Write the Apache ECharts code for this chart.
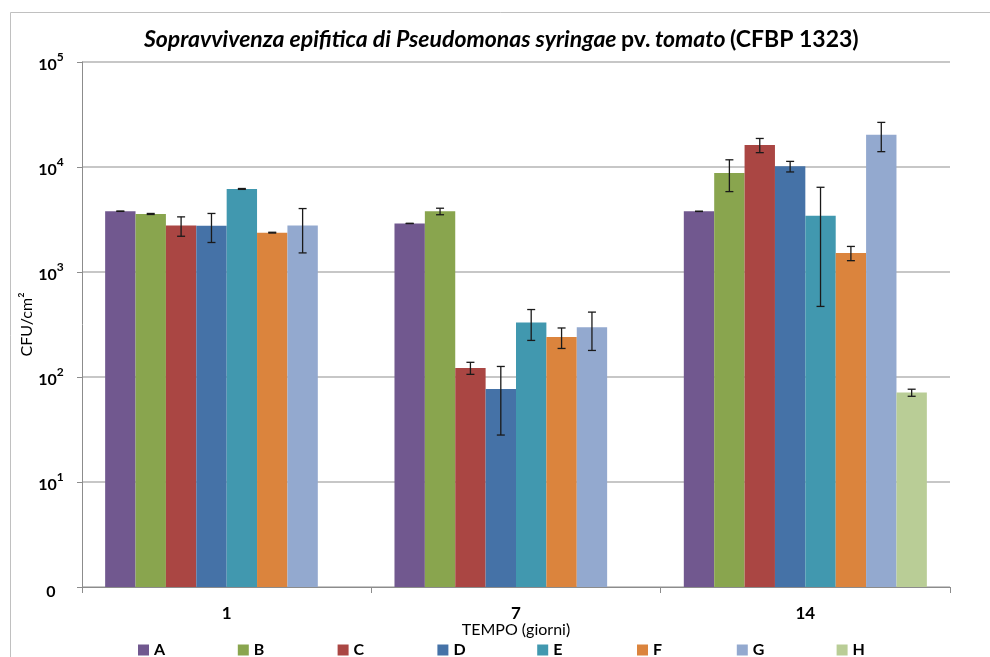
<!DOCTYPE html>
<html>
<head>
<meta charset="utf-8">
<title>Sopravvivenza epifitica</title>
<script src="https://cdn.jsdelivr.net/npm/echarts@6/dist/echarts.min.js"></script>
<style>
  html, body { margin: 0; padding: 0; background: #fff; }
  #chart { width: 990px; height: 657px; }
</style>
</head>
<body>
<div id="chart"></div>
<script>
// Sampling days (x categories)
const categories = ['1', '7', '14'];

// Treatments
const seriesNames = ['A', 'B', 'C', 'D', 'E', 'F', 'G', 'H'];
const seriesColors = ['#71588F', '#89A54E', '#AA4643', '#4572A7', '#4198AF', '#DB843D', '#93A9CF', '#B9CD96'];

// Mean CFU/cm² per day (null = not sampled)
const valuesA = [3790, 2900, 3780];
const valuesB = [3570, 3780, 8770];
const valuesC = [2770, 122, 16200];
const valuesD = [2760, 77, 10140];
const valuesE = [6180, 331, 3440];
const valuesF = [2370, 240, 1517];
const valuesG = [2770, 297, 20300];
const valuesH = [null, null, 71];

// Standard deviations (symmetric error bars)
const sdA = [12, 8, 10];
const sdB = [40, 270, 2940];
const sdC = [580, 16, 2500];
const sdD = [850, 49, 1170];
const sdE = [60, 108, 2970];
const sdF = [20, 53, 235];
const sdG = [1250, 118, 6300];
const sdH = [null, null, 5.5];

// Y axis decade ticks
const yTicks = [1, 10, 100, 1000, 10000, 100000];

const allValues = [valuesA, valuesB, valuesC, valuesD, valuesE, valuesF, valuesG, valuesH];
const allSd = [sdA, sdB, sdC, sdD, sdE, sdF, sdG, sdH];

const FONT = 'Lato, "Open Sans", sans-serif';
const CAT_GAP = 0.16;
const nBars = seriesNames.length;

const barSeries = seriesNames.map((name, i) => ({
  name: name,
  type: 'bar',
  barGap: '0%',
  barCategoryGap: (CAT_GAP * 100) + '%',
  itemStyle: { color: seriesColors[i] },
  data: allValues[i],
  z: 2
}));

// Error bars drawn on top of each bar
const errData = [];
allValues.forEach((vals, s) => {
  vals.forEach((v, c) => {
    const sd = allSd[s][c];
    if (v != null && sd != null) {
      errData.push([c, s, Math.max(v - sd, 1), v + sd]);
    }
  });
});

const errorSeries = {
  type: 'custom',
  name: 'err',
  z: 5,
  silent: true,
  data: errData,
  encode: { x: 0, y: [2, 3] },
  renderItem: function (params, api) {
    const c = api.value(0);
    const s = api.value(1);
    const lo = api.value(2);
    const hi = api.value(3);
    const band = api.size([1, 0])[0];
    const bw = band * (1 - CAT_GAP) / nBars;
    const base = api.coord([c, lo]);
    const x = base[0] + (s - nBars / 2 + 0.5) * bw;
    const yLo = base[1];
    const yHi = api.coord([c, hi])[1];
    const cap = 4;
    const style = { stroke: '#1a1a1a', lineWidth: 1.3 };
    return {
      type: 'group',
      children: [
        { type: 'line', shape: { x1: x, y1: yLo, x2: x, y2: yHi }, style: style },
        { type: 'line', shape: { x1: x - cap, y1: yLo, x2: x + cap, y2: yLo }, style: style },
        { type: 'line', shape: { x1: x - cap, y1: yHi, x2: x + cap, y2: yHi }, style: style }
      ]
    };
  }
};

// One legend block per treatment, evenly spaced along the bottom
const legends = seriesNames.map((name, i) => ({
  data: [name],
  left: 133 + 99.8 * i,
  top: 637,
  itemWidth: 11,
  itemHeight: 11,
  itemGap: 5,
  icon: 'rect',
  textStyle: { fontFamily: FONT, fontSize: 16, fontWeight: 'bold', color: '#000' }
}));

const chart = echarts.init(document.getElementById('chart'), null, { renderer: 'canvas' });

chart.setOption({
  animation: false,
  backgroundColor: '#ffffff',
  textStyle: { fontFamily: FONT },
  graphic: [{
    type: 'rect',
    silent: true,
    shape: { x: 10.5, y: 12.5, width: 1100, height: 800 },
    style: { fill: 'none', stroke: '#c0c0c0', lineWidth: 1 }
  }],
  title: {
    text: '{i|Sopravvivenza epifitica di Pseudomonas syringae} {n|pv.} {i|tomato} {n|(CFBP 1323)}',
    left: 144,
    top: 28,
    padding: 0,
    textStyle: {
      rich: {
        i: { fontFamily: FONT, fontSize: 23, fontStyle: 'italic', fontWeight: 'bold', color: '#000' },
        n: { fontFamily: FONT, fontSize: 23, fontWeight: 'bold', color: '#000' }
      }
    }
  },
  legend: legends,
  grid: { left: 82, right: 40, top: 62, bottom: 70, containLabel: false },
  xAxis: {
    type: 'category',
    data: categories,
    name: 'TEMPO (giorni)',
    nameLocation: 'middle',
    nameMoveOverlap: false,
    nameGap: 35,
    nameTextStyle: { fontFamily: FONT, fontSize: 16, color: '#000' },
    axisLine: { lineStyle: { color: '#8c8c8c', width: 1 } },
    axisTick: { show: true, length: 6, lineStyle: { color: '#8c8c8c' } },
    axisLabel: { fontFamily: FONT, fontSize: 17, fontWeight: 'bold', color: '#000', margin: 18 }
  },
  yAxis: {
    type: 'log',
    logBase: 10,
    min: yTicks[0],
    max: yTicks[yTicks.length - 1],
    name: 'CFU/cm²',
    nameLocation: 'middle',
    nameMoveOverlap: false,
    nameRotate: 90,
    nameGap: 47,
    nameTextStyle: { fontFamily: FONT, fontSize: 16, fontWeight: 'normal', color: '#000' },
    axisLine: { show: true, lineStyle: { color: '#8c8c8c', width: 1 } },
    axisTick: { show: true, length: 5, lineStyle: { color: '#8c8c8c' } },
    splitLine: { show: true, lineStyle: { color: '#b5b5b5', width: 1.5 } },
    axisLabel: {
      margin: 31,
      align: 'center',
      formatter: function (v) {
        const e = Math.round(Math.log10(v));
        if (e === 0) return '{z|0}';
        return '{b|10}{s|' + e + '}';
      },
      rich: {
        z: { fontFamily: FONT, fontSize: 16, fontWeight: 'bold', color: '#000', padding: [10, 0, 0, 0] },
        b: { fontFamily: FONT, fontSize: 16, fontWeight: 'bold', color: '#000', lineHeight: 22, verticalAlign: 'bottom' },
        s: { fontFamily: FONT, fontSize: 12, fontWeight: 'bold', color: '#000', lineHeight: 22, verticalAlign: 'top' }
      }
    }
  },
  series: barSeries.concat([errorSeries])
});
</script>
</body>
</html>
